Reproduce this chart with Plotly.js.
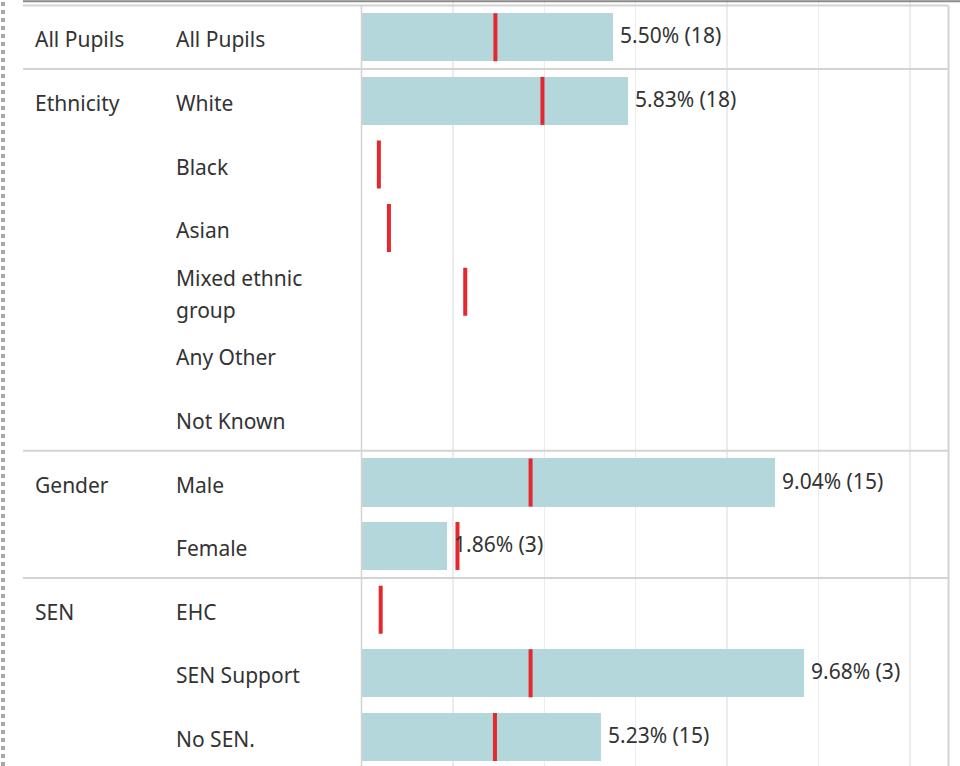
<!DOCTYPE html>
<html>
<head>
<meta charset="utf-8">
<script src="https://cdn.plot.ly/plotly-3.0.1.min.js"></script>
<style>
    html, body { margin: 0; padding: 0; background: #fff; }
    #chart { width: 960px; height: 766px; }
</style>
</head>
<body>
<div id="chart"></div>
<script>
// table rows, top to bottom
const groups = ["All Pupils", "Ethnicity", "", "", "", "", "", "Gender", "", "SEN", "", ""];
const subgroups = ["All Pupils", "White", "Black", "Asian", "Mixed ethnic<br>group", "Any Other", "Not Known",
    "Male", "Female", "EHC", "SEN Support", "No SEN."];
// % of pupils, and pupil count
const pctValues = [5.50, 5.83, null, null, null, null, null, 9.04, 1.86, null, 9.68, 5.23];
const pupilCounts = [18, 18, null, null, null, null, null, 15, 3, null, 3, 15];
// red reference marks
const benchmark = [2.93, 3.96, 0.38, 0.60, 2.27, null, null, 3.70, 2.10, 0.42, 3.70, 2.92];

const W = 960, H = 766;
const ROW_PX = 63.6;
const TOP_PX = 5.5;
const X0_PX = 361.5, X1_PX = 948.5;
const PX_PER_PCT = 45.7;
const FONT = "'Noto Sans', 'Open Sans', sans-serif";
const TXT = "#333333";
const FSIZE = 21;

const rows = subgroups.map((_, i) => i);
const yTop = -0.5 - TOP_PX / ROW_PX;
const yBottom = yTop + H / ROW_PX;

var traces = [];
traces.push({
    type: 'bar',
    orientation: 'h',
    x: pctValues,
    y: rows,
    width: 0.755,
    marker: { color: '#b4d7dc' },
    hoverinfo: 'skip',
});
traces.push({
    type: 'scatter',
    mode: 'markers',
    x: benchmark,
    y: rows,
    marker: {
        symbol: 'line-ns',
        size: 34.3,
        color: '#e3282f',
        line: { color: '#e3282f', width: 4 }
    },
    hoverinfo: 'skip',
});

function label(x, y, text, yshift) {
    return {
        xref: 'paper', yref: 'y', x: x / W, y: y,
        xanchor: 'left', yanchor: 'middle', yshift: yshift,
        text: text, showarrow: false,
        font: { family: FONT, size: FSIZE, color: TXT }
    };
}

var annotations = [];
for (var i = 0; i < rows.length; i++) {
    if (groups[i]) {
        annotations.push(label(33, i, groups[i], -2));
    }
    if (subgroups[i].indexOf('<br>') >= 0) {
        var parts = subgroups[i].split('<br>');
        annotations.push(label(174, i, parts[0], 14));
        annotations.push(label(174, i, parts[1], -18));
    } else {
        annotations.push(label(174, i, subgroups[i], -2));
    }
    if (pctValues[i] != null) {
        annotations.push({
            xref: 'x', yref: 'y', x: pctValues[i], y: i,
            xanchor: 'left', yanchor: 'middle', xshift: 5, yshift: 2,
            text: pctValues[i].toFixed(2) + '% (' + pupilCounts[i] + ')',
            showarrow: false,
            font: { family: FONT, size: FSIZE, color: TXT }
        });
    }
}

// row separators between groups
var shapes = [];
var sepColor = '#d3d3d3';
for (var i = 0; i < rows.length; i++) {
    if (i == 0 || groups[i]) {
        shapes.push({
            type: 'line', xref: 'paper', yref: 'y',
            x0: 23 / W, x1: X1_PX / W, y0: i - 0.5, y1: i - 0.5,
            line: { color: sepColor, width: 2 }
        });
    }
}
// pane borders
shapes.push({
    type: 'line', xref: 'x domain', yref: 'y',
    x0: 0, x1: 0, y0: -0.5, y1: yBottom,
    line: { color: sepColor, width: 1.5 }
});
shapes.push({
    type: 'line', xref: 'x domain', yref: 'y',
    x0: 1, x1: 1, y0: -0.5, y1: yBottom,
    line: { color: sepColor, width: 2 }
});
// dark top rule
shapes.push({
    type: 'line', xref: 'paper', yref: 'paper',
    x0: 23 / W, x1: 1, y0: 1 - 1.2 / H, y1: 1 - 1.2 / H,
    line: { color: '#8a8a8a', width: 2 }
});
// dotted left edge
shapes.push({
    type: 'line', xref: 'paper', yref: 'paper',
    x0: 3 / W, x1: 3 / W, y0: 0, y1: 1,
    line: { color: '#a8a8a8', width: 4, dash: 'dot' }
});

var layout = {
    width: W,
    height: H,
    margin: { l: 0, r: 0, t: 0, b: 0, pad: 0 },
    paper_bgcolor: '#ffffff',
    plot_bgcolor: '#ffffff',
    showlegend: false,
    bargap: 0,
    xaxis: {
        domain: [X0_PX / W, X1_PX / W],
        range: [0, (X1_PX - X0_PX) / PX_PER_PCT],
        tick0: 0,
        dtick: 2,
        showgrid: true,
        gridcolor: '#ececec',
        gridwidth: 1.5,
        zeroline: false,
        showline: false,
        showticklabels: false,
        ticks: '',
        fixedrange: true,
    },
    yaxis: {
        range: [yBottom, yTop],
        showgrid: false,
        zeroline: false,
        showline: false,
        showticklabels: false,
        ticks: '',
        fixedrange: true,
    },
    annotations: annotations,
    shapes: shapes,
};
var config = { displayModeBar: false, staticPlot: true };
Plotly.newPlot('chart', traces, layout, config);
</script>
</body>
</html>
